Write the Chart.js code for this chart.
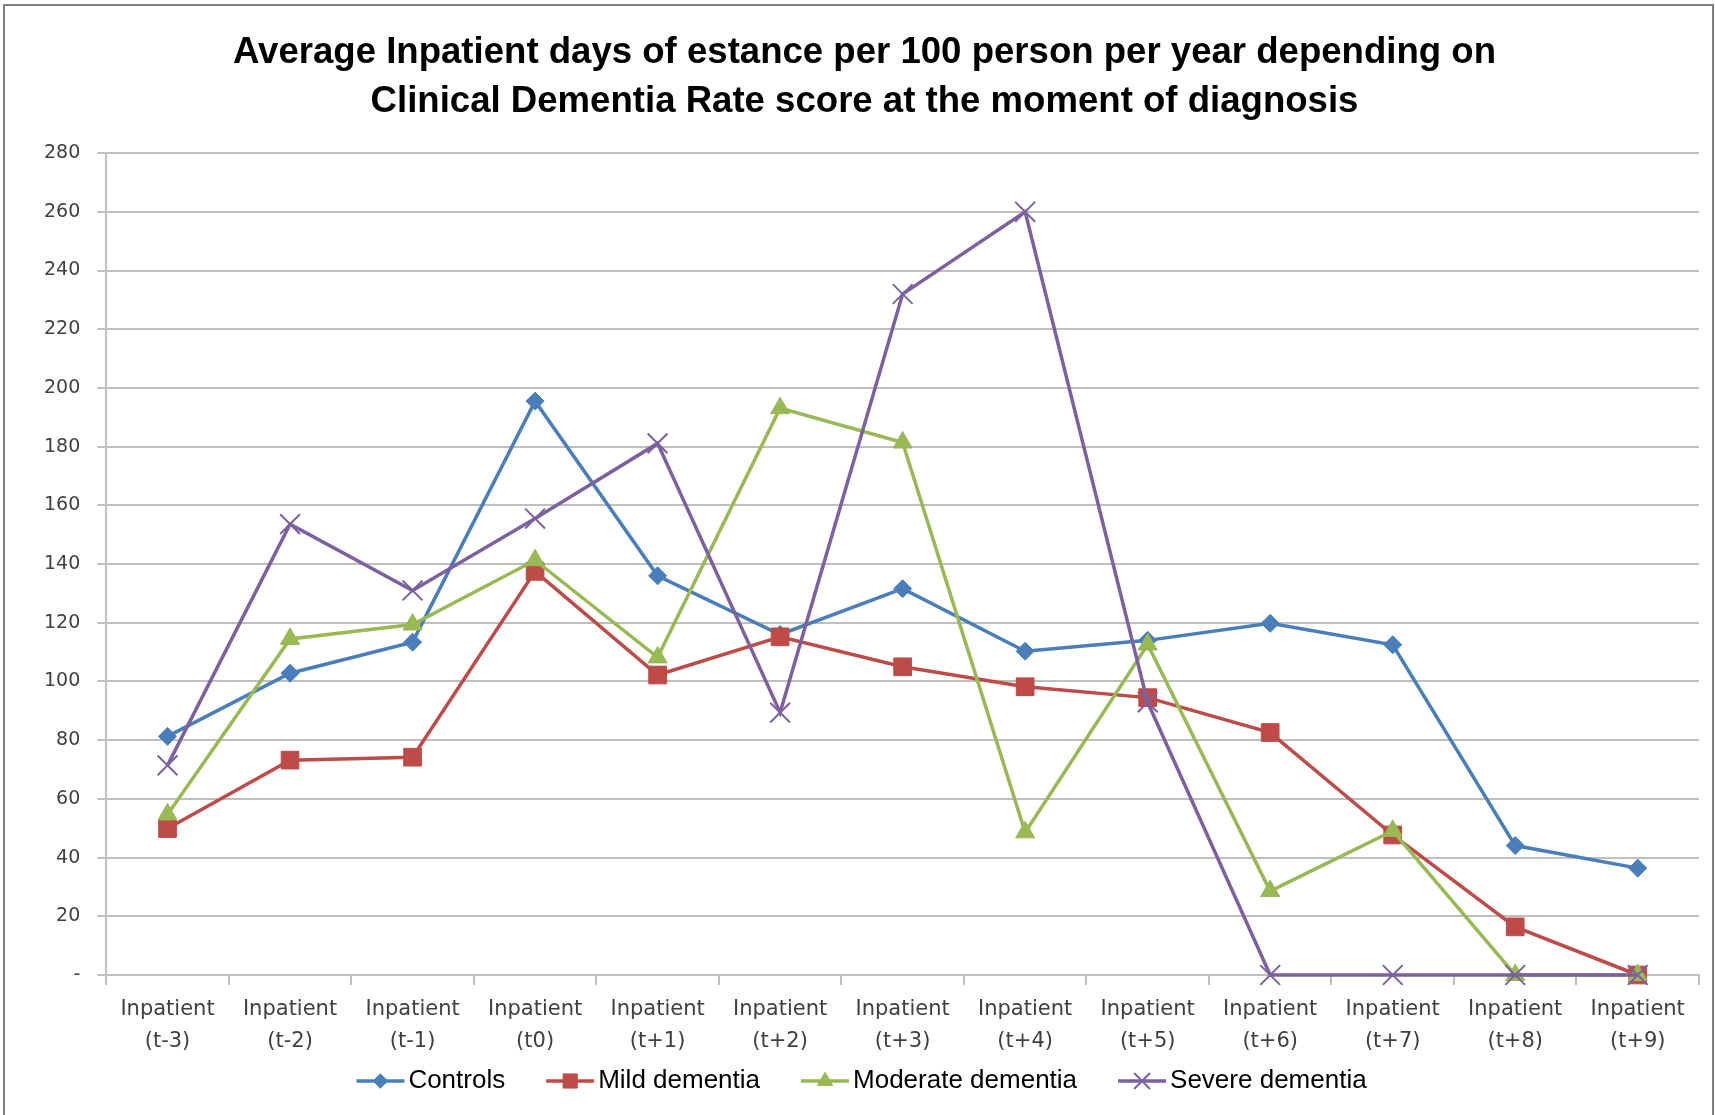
<!DOCTYPE html>
<html>
<head>
<meta charset="utf-8">
<style>
html, body { margin: 0; padding: 0; background: #fff; }
#wrap { width: 1715px; height: 1115px; }
</style>
<script src="https://cdn.jsdelivr.net/npm/chart.js@4.4.1/dist/chart.umd.min.js"></script>
</head>
<body>
<div id="wrap"><canvas id="chart" width="1715" height="1115"></canvas></div>
<script>
// periods relative to the diagnosis year
const periods = ['t-3', 't-2', 't-1', 't0', 't+1', 't+2', 't+3', 't+4', 't+5', 't+6', 't+7', 't+8', 't+9'];
const categories = periods.map(p => ['Inpatient', '(' + p + ')']);

const controls = [81.3, 102.8, 113.4, 195.5, 136, 116, 131.6, 110.3, 114, 119.8, 112.5, 44.1, 36.4];
const mild     = [49.9, 73.2, 74.2, 137.5, 102.2, 115.2, 105, 98.2, 94.5, 82.6, 47.7, 16.4, 0];
const moderate = [54.7, 114.5, 119.4, 141.3, 108.2, 193.1, 181.4, 48.6, 112.6, 28.6, 49.1, 0, 0];
const severe   = [71.4, 153.6, 131, 155.5, 181.1, 89.4, 232, 260, 92.9, 0, 0, 0, 0];

const yMin = 0, yMax = 280, yStep = 20;

function series(label, data, color, style, radius, order, markerBorder) {
    return {
        label: label,
        data: data,
        borderColor: color,
        backgroundColor: color,
        borderWidth: 3.5,
        pointStyle: style,
        pointRadius: radius,
        pointHoverRadius: radius,
        pointBackgroundColor: color,
        pointBorderColor: color,
        pointBorderWidth: markerBorder,
        tension: 0,
        clip: false,
        order: order
    };
}

// white background + frame around the picture
const framePlugin = {
    id: 'frame',
    beforeDraw(chart) {
        const ctx = chart.ctx;
        ctx.save();
        ctx.fillStyle = '#fff';
        ctx.fillRect(0, 0, chart.width, chart.height);
        ctx.strokeStyle = '#7f7f7f';
        ctx.lineWidth = 2;
        ctx.beginPath();
        ctx.moveTo(4, chart.height);
        ctx.lineTo(4, 5);
        ctx.lineTo(chart.width - 2, 5);
        ctx.lineTo(chart.width - 2, chart.height);
        ctx.stroke();
        ctx.restore();
    }
};

// Excel-like legend: short line with the marker on it, then the text
const lineLegend = {
    id: 'lineLegend',
    afterDraw(chart) {
        const ctx = chart.ctx;
        const sets = chart.data.datasets;
        const lineLen = 48, textGap = 4, itemGap = 41;
        const y = chart.height - 34;
        ctx.save();
        ctx.font = '26px "Liberation Sans"';
        const widths = sets.map(ds => lineLen + textGap + ctx.measureText(ds.label).width);
        const total = widths.reduce((a, b) => a + b, 0) + itemGap * (sets.length - 1);
        let x = chart.width / 2 + 4 - total / 2;
        sets.forEach((ds, i) => {
            ctx.strokeStyle = ds.borderColor;
            ctx.lineWidth = ds.borderWidth;
            ctx.beginPath();
            ctx.moveTo(x, y);
            ctx.lineTo(x + lineLen, y);
            ctx.stroke();
            ctx.fillStyle = ds.pointBackgroundColor;
            ctx.strokeStyle = ds.pointBorderColor;
            ctx.lineWidth = ds.pointBorderWidth;
            if (Chart.helpers && Chart.helpers.drawPoint) {
                Chart.helpers.drawPoint(ctx, {
                    pointStyle: ds.pointStyle,
                    radius: ds.pointRadius * 0.8,
                    borderWidth: ds.pointBorderWidth,
                    rotation: 0
                }, x + lineLen / 2, y);
            }
            ctx.fillStyle = '#000';
            ctx.textAlign = 'left';
            ctx.textBaseline = 'middle';
            ctx.fillText(ds.label, x + lineLen + textGap, y);
            x += widths[i] + itemGap;
        });
        ctx.restore();
    }
};

const ctx = document.getElementById('chart').getContext('2d');
new Chart(ctx, {
    type: 'line',
    data: {
        labels: categories,
        datasets: [
            series('Controls', controls, '#4a7ebb', 'rectRot', 9, 4, 1),
            series('Mild dementia', mild, '#be4b48', 'rect', 12.5, 3, 1),
            series('Moderate dementia', moderate, '#98b954', 'triangle', 11, 2, 1),
            series('Severe dementia', severe, '#7d60a0', 'crossRot', 14, 1, 2)
        ]
    },
    options: {
        responsive: false,
        animation: false,
        layout: { padding: { top: 5, left: 27, right: 13, bottom: 49 } },
        plugins: {
            legend: { display: false },
            tooltip: { enabled: false },
            title: {
                display: true,
                text: ['Average Inpatient days of estance per 100 person per year depending on',
                       'Clinical Dementia Rate score at the moment of diagnosis'],
                color: '#000',
                font: { family: 'Liberation Sans', size: 36.6, weight: 'bold', lineHeight: 1.34 },
                padding: { top: 23, bottom: 27 }
            }
        },
        scales: {
            x: {
                type: 'category',
                offset: true,
                grid: { offset: true, drawOnChartArea: false, drawTicks: true, tickLength: 10, color: '#bfbfbf', lineWidth: 2 },
                border: { color: '#bfbfbf', width: 2 },
                ticks: {
                    color: '#404040',
                    font: { family: 'DejaVu Sans', size: 21, lineHeight: 1.5 },
                    padding: 9,
                    maxRotation: 0,
                    autoSkip: false
                }
            },
            y: {
                min: yMin,
                max: yMax,
                grid: { color: '#bfbfbf', lineWidth: 2, tickLength: 9, drawTicks: true },
                border: { color: '#bfbfbf', width: 2 },
                ticks: {
                    stepSize: yStep,
                    color: '#404040',
                    font: { family: 'DejaVu Sans', size: 19 },
                    padding: 17,
                    callback: v => v === 0 ? '-' : v
                }
            }
        }
    },
    plugins: [framePlugin, lineLegend]
});
</script>
</body>
</html>
